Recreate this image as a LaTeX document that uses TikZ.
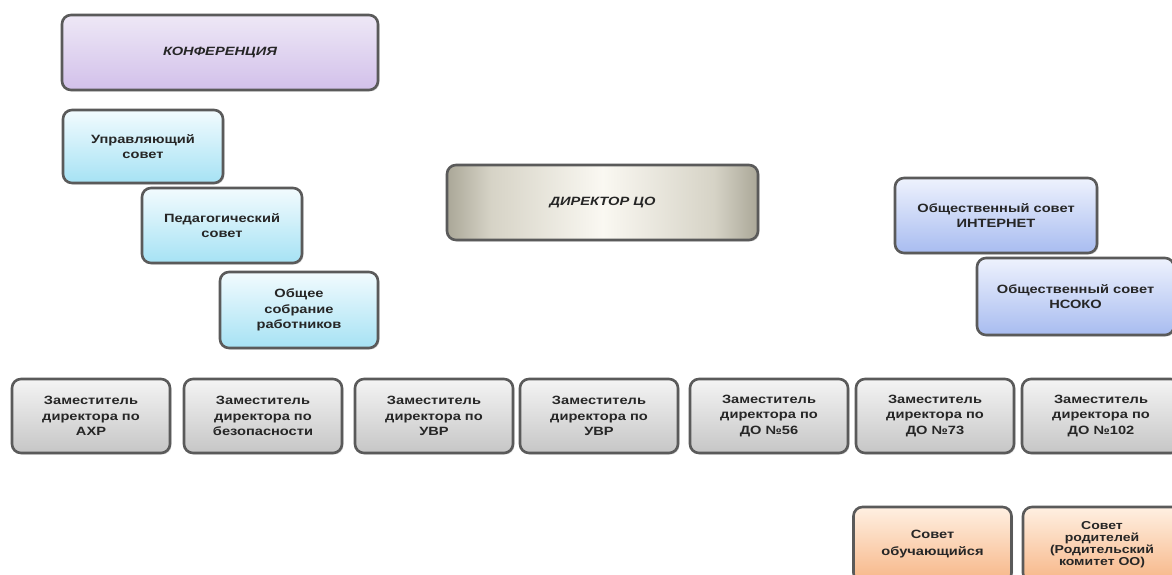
\documentclass[tikz,border=0pt]{standalone}
\usepackage{fontspec}
\newfontfamily\boxfont[FakeStretch=1.22]{Liberation Sans}
\usetikzlibrary{shadows}
\definecolor{bordergray}{HTML}{5A5A5A}
\definecolor{textgray}{HTML}{262626}
\definecolor{lavtop}{HTML}{EEE8F6}
\definecolor{lavbot}{HTML}{D2C0EA}
\definecolor{cyantop}{HTML}{F2FBFE}
\definecolor{cyanbot}{HTML}{A6E2F4}
\definecolor{bluetop}{HTML}{EEF2FD}
\definecolor{bluebot}{HTML}{A8BCF0}
\definecolor{graytop}{HTML}{F4F4F4}
\definecolor{graybot}{HTML}{C6C6C6}
\definecolor{orgtop}{HTML}{FFF0E2}
\definecolor{orgbot}{HTML}{F7B687}
\definecolor{metA}{HTML}{8A8776}
\definecolor{metB}{HTML}{D6D3C6}
\definecolor{metC}{HTML}{FAF8F2}
\pgfdeclarehorizontalshading{metal}{100bp}{
  color(0bp)=(metA); color(20bp)=(metA); color(32bp)=(metB); color(50bp)=(metC);
  color(68bp)=(metB); color(80bp)=(metA); color(100bp)=(metA)}
\tikzset{
  box/.style={draw=bordergray, line width=2.6pt, rounded corners=9pt, align=center,
    text=textgray, inner sep=1pt,
    font=\boxfont\bfseries\fontsize{12}{15.5}\selectfont,
    drop shadow={shadow xshift=1.5pt, shadow yshift=-1.5pt, opacity=0.25}},
  lav/.style={box, top color=lavtop, bottom color=lavbot},
  cyanbox/.style={box, top color=cyantop, bottom color=cyanbot},
  bluebox/.style={box, top color=bluetop, bottom color=bluebot},
  graybox/.style={box, top color=graytop, bottom color=graybot, minimum width=158pt, minimum height=74pt},
  orgbox/.style={box, top color=orgtop, bottom color=orgbot, minimum width=158pt, minimum height=75pt},
  metbox/.style={box, shading=metal},
  head/.style={font=\boxfont\bfseries\itshape\fontsize{12}{15}\selectfont}
}
\begin{document}
\begin{tikzpicture}[x=1pt,y=-1pt]
\clip (0,0) rectangle (1172,575);
\fill[white] (0,0) rectangle (1172,575);

\node[lav, head, minimum width=316pt, minimum height=75pt] (konf) at (220,52.5) {КОНФЕРЕНЦИЯ};

\node[cyanbox, minimum width=160pt, minimum height=73pt] (upr) at (143,146.5) {Управляющий\\совет};
\node[cyanbox, minimum width=160pt, minimum height=75pt] (ped) at (222,225.5) {Педагогический\\совет};
\node[cyanbox, minimum width=158pt, minimum height=76pt] (obsh) at (299,310) {Общее\\собрание\\работников};

\node[metbox, head, minimum width=311pt, minimum height=75pt] (dir) at (602.5,202.5) {ДИРЕКТОР ЦО};

\node[bluebox, minimum width=202pt, minimum height=75pt] (inet) at (996,215.5) {Общественный совет\\ИНТЕРНЕТ};
\node[bluebox, minimum width=197pt, minimum height=77pt] (nsoko) at (1075.5,296.5) {Общественный совет\\НСОКО};

\node[graybox] (z1) at (91,416) {Заместитель\\директора по\\АХР};
\node[graybox] (z2) at (263,416) {Заместитель\\директора по\\безопасности};
\node[graybox] (z3) at (434,416) {Заместитель\\директора по\\УВР};
\node[graybox] (z4) at (599,416) {Заместитель\\директора по\\УВР};
\node[graybox] (z5) at (769,416) {Заместитель\\директора по\\ДО №56};
\node[graybox] (z6) at (935,416) {Заместитель\\директора по\\ДО №73};
\node[graybox] (z7) at (1101,416) {Заместитель\\директора по\\ДО №102};

\node[orgbox, font=\boxfont\bfseries\fontsize{12}{17}\selectfont] (sov1) at (932.5,544.5) {Совет\\обучающийся};
\node[orgbox, font=\boxfont\bfseries\fontsize{11.5}{12}\selectfont] (sov2) at (1102,544.5) {Совет\\родителей\\(Родительский\\комитет ОО)};
\end{tikzpicture}
\end{document}
